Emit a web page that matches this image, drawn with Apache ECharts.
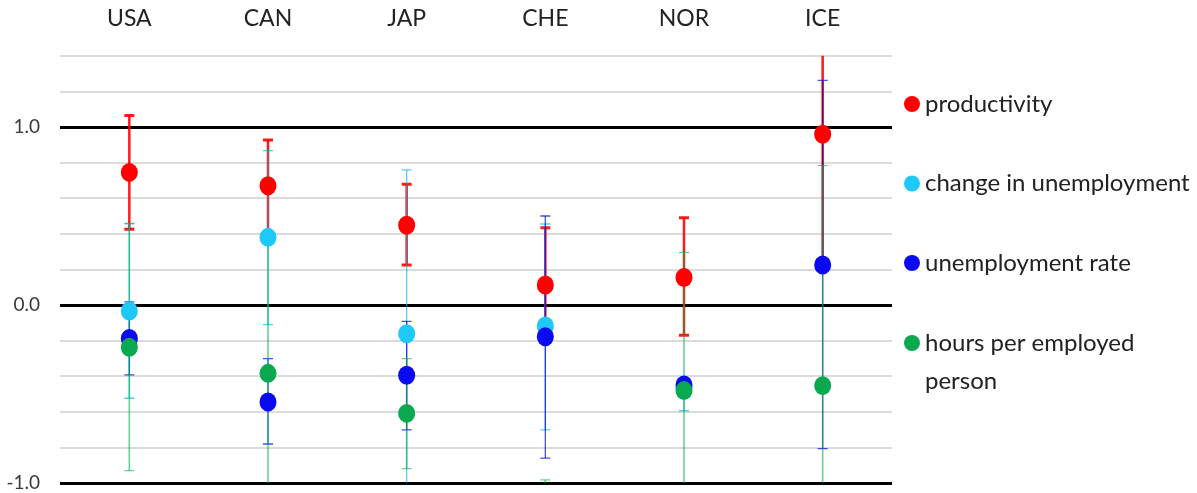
<!DOCTYPE html>
<html>
<head>
<meta charset="utf-8">
<script src="https://cdn.jsdelivr.net/npm/echarts@6/dist/echarts.min.js"></script>
<style>
html,body{margin:0;padding:0;background:#fff;}
#chart{width:1197px;height:493px;}
</style>
</head>
<body>
<div id="chart"></div>
<script>
// ---- data ----
const categories = ['USA', 'CAN', 'JAP', 'CHE', 'NOR', 'ICE'];
const productivity        = [0.745, 0.670, 0.448, 0.112, 0.155, 0.959];
const productivityPlus    = [0.320, 0.257, 0.230, 0.322, 0.335, 0.740];
const productivityMinus   = [0.320, 0.257, 0.223, 0.322, 0.325, 0.740];
const changeUnemp         = [-0.034, 0.380, -0.161, -0.118, -0.465, null];
const changeUnempPlus     = [0.490, 0.487, 0.920, 0.573, 0.050, null];
const changeUnempMinus    = [0.490, 0.490, 0.920, 0.584, 0.129, null];
const unempRate           = [-0.188, -0.545, -0.395, -0.178, -0.449, 0.225];
const unempRatePlus       = [0.205, 0.244, 0.303, 0.678, 0.030, 1.037];
const unempRateMinus      = [0.205, 0.236, 0.307, 0.682, 0.030, 1.032];
const hours               = [-0.238, -0.384, -0.609, -1.300, -0.481, -0.453];
const hoursPlus           = [0.697, 0.750, 0.308, 0.317, 0.777, 1.236];
const hoursMinus          = [0.693, 0.750, 0.310, 0.317, 0.777, 1.236];
const yTickLabels = [-1.0, 0.0, 1.0];
const blackLines = [-1.0, 0.0, 1.0];

const seriesDefs = [
  {name: 'productivity', values: productivity, plus: productivityPlus, minus: productivityMinus,
   color: '#ff0000', errColor: 'rgba(255,0,0,0.9)', errWidth: 2.5, capWidth: 3},
  {name: 'change in unemployment', values: changeUnemp, plus: changeUnempPlus, minus: changeUnempMinus,
   color: '#1ec8f7', errColor: 'rgba(0,176,240,0.65)', errWidth: 1.3, capWidth: 1.3},
  {name: 'unemployment rate', values: unempRate, plus: unempRatePlus, minus: unempRateMinus,
   color: '#0a0af0', errColor: 'rgba(0,0,230,0.7)', errWidth: 1.3, capWidth: 1.3},
  {name: 'hours per employed person', values: hours, plus: hoursPlus, minus: hoursMinus,
   color: '#0aa94f', errColor: 'rgba(0,176,80,0.6)', errWidth: 1.6, capWidth: 1.3}
];

const chart = echarts.init(document.getElementById('chart'), null, {renderer: 'canvas'});

function errRender(def) {
  return function (params, api) {
    const x = api.value(0);
    const p1 = api.coord([x, api.value(1)]);
    const p2 = api.coord([x, api.value(2)]);
    const half = 5;
    const st = {stroke: def.errColor, lineWidth: def.errWidth};
    const cst = {stroke: def.errColor, lineWidth: def.capWidth};
    return {
      type: 'group',
      children: [
        {type: 'line', shape: {x1: p1[0], y1: p1[1], x2: p2[0], y2: p2[1]}, style: st},
        {type: 'line', shape: {x1: p1[0] - half, y1: p1[1], x2: p1[0] + half, y2: p1[1]}, style: cst},
        {type: 'line', shape: {x1: p2[0] - half, y1: p2[1], x2: p2[0] + half, y2: p2[1]}, style: cst}
      ]
    };
  };
}

const series = [];
seriesDefs.forEach(function (def) {
  const errData = [];
  def.values.forEach(function (v, i) {
    if (v !== null && def.plus[i] !== null) {
      errData.push([i, v + def.plus[i], v - def.minus[i]]);
    }
  });
  series.push({
    type: 'custom',
    name: def.name + ' error',
    renderItem: errRender(def),
    data: errData,
    clip: true,
    silent: true,
    z: 5
  });
});
seriesDefs.forEach(function (def) {
  series.push({
    type: 'scatter',
    name: def.name,
    data: def.values.map(function (v, i) { return v === null ? null : [i, v]; }),
    symbol: 'circle',
    symbolSize: [17, 19],
    itemStyle: {color: def.color, opacity: 1},
    clip: true,
    z: 10
  });
});
// reference black lines
series.push({
  type: 'scatter',
  name: 'ref',
  data: [],
  silent: true,
  z: 1,
  markLine: {
    silent: true,
    z: 1,
    symbol: 'none',
    label: {show: false},
    lineStyle: {color: '#000', width: 3, type: 'solid'},
    emphasis: {disabled: true},
    data: blackLines.map(function (v) { return {yAxis: v}; })
  }
});

const legendText = {fontFamily: 'Lato', fontSize: 24, color: '#222', lineHeight: 38};

const option = {
  animation: false,
  backgroundColor: '#ffffff',
  grid: {left: 60, right: 305, top: 55.8, bottom: 10, containLabel: false},
  xAxis: {
    type: 'category',
    data: categories,
    position: 'top',
    boundaryGap: true,
    axisLine: {show: false},
    axisTick: {show: false},
    splitLine: {show: false},
    axisLabel: {margin: 26, fontFamily: 'Lato', fontSize: 23, color: '#222'}
  },
  yAxis: {
    type: 'value',
    min: -1.0,
    max: 1.4,
    interval: 0.2,
    axisLine: {show: false},
    axisTick: {show: false},
    splitLine: {show: true, lineStyle: {color: '#cfcfcf', width: 1.5}},
    axisLabel: {
      margin: 20,
      fontFamily: 'Lato',
      fontSize: 19,
      color: '#3a3a3a',
      formatter: function (v) {
        for (let i = 0; i < yTickLabels.length; i++) {
          if (Math.abs(v - yTickLabels[i]) < 1e-6) return yTickLabels[i].toFixed(1);
        }
        return '';
      }
    }
  },
  legend: [
    {
      orient: 'vertical',
      left: 904,
      top: 85,
      padding: 0,
      itemGap: 41.5,
      itemWidth: 16,
      itemHeight: 16,
      icon: 'circle',
      selectedMode: false,
      textStyle: legendText,
      data: ['productivity', 'change in unemployment', 'unemployment rate']
    },
    {
      orient: 'vertical',
      left: 904,
      top: 286,
      padding: 0,
      itemWidth: 16,
      itemHeight: 16,
      icon: 'circle',
      selectedMode: false,
      textStyle: legendText,
      formatter: function () { return ' \nhours per employed\nperson'; },
      data: ['hours per employed person']
    }
  ],
  series: series
};
chart.setOption(option);
</script>
</body>
</html>
